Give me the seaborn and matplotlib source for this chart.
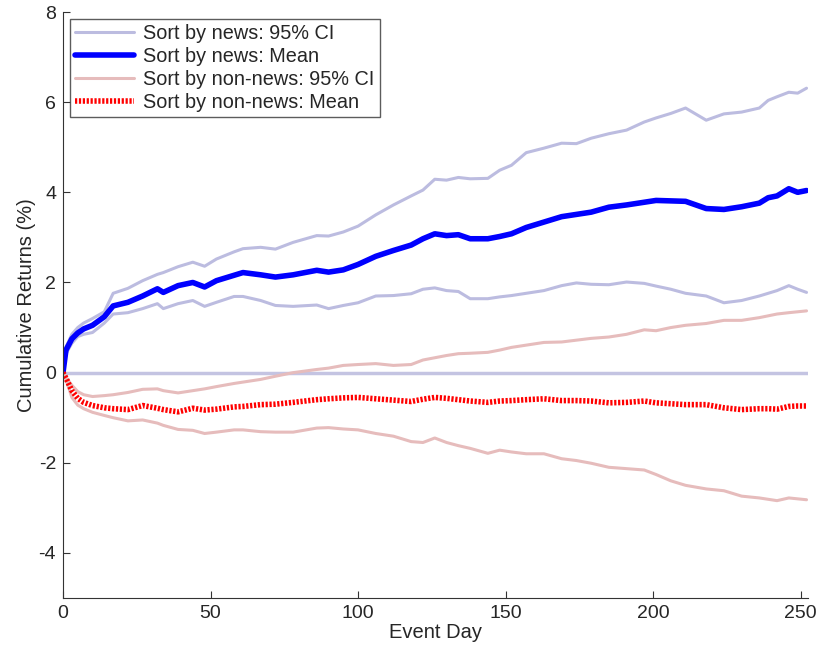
import numpy as np
import pandas as pd
import seaborn as sns
import matplotlib
matplotlib.use("Agg")
import matplotlib.pyplot as plt

# dias do evento (grade comum de leitura)
days = [0, 1, 3, 5, 7, 10, 14, 17, 22, 27, 32, 34, 39, 44, 48, 52, 58, 61, 67, 72,
        78, 86, 90, 95, 100, 106, 112, 118, 122, 126, 130, 134, 138, 144, 148, 152,
        157, 163, 169, 174, 179, 185, 191, 197, 201, 206, 211, 218, 224, 230, 236,
        239, 242, 246, 249, 252]

# Sort by news
news_mean = [0, 0.5, 0.75, 0.88, 0.97, 1.05, 1.24, 1.48, 1.56, 1.7, 1.86, 1.78, 1.93, 2.0,
             1.9, 2.04, 2.16, 2.22, 2.17, 2.12, 2.17, 2.27, 2.23, 2.28, 2.4, 2.58, 2.71,
             2.83, 2.97, 3.08, 3.04, 3.06, 2.97, 2.97, 3.02, 3.08, 3.22, 3.34, 3.46, 3.51,
             3.56, 3.67, 3.72, 3.78, 3.82, 3.81, 3.8, 3.64, 3.62, 3.68, 3.76, 3.88, 3.92,
             4.08, 4.0, 4.04]
news_hi = [0, 0.56, 0.85, 1.0, 1.1, 1.2, 1.35, 1.76, 1.87, 2.04, 2.18, 2.22, 2.35, 2.45,
           2.36, 2.52, 2.68, 2.75, 2.78, 2.74, 2.89, 3.04, 3.03, 3.12, 3.25, 3.5, 3.72,
           3.92, 4.05, 4.29, 4.27, 4.33, 4.3, 4.31, 4.49, 4.6, 4.88, 4.98, 5.09, 5.08,
           5.2, 5.3, 5.38, 5.56, 5.65, 5.75, 5.87, 5.6, 5.74, 5.78, 5.87, 6.04, 6.12,
           6.22, 6.2, 6.31]
news_lo = [0, 0.42, 0.65, 0.8, 0.85, 0.89, 1.1, 1.3, 1.33, 1.42, 1.53, 1.42, 1.53, 1.6,
           1.47, 1.56, 1.69, 1.69, 1.6, 1.49, 1.47, 1.5, 1.42, 1.49, 1.55, 1.7, 1.71,
           1.75, 1.85, 1.88, 1.82, 1.8, 1.64, 1.64, 1.68, 1.71, 1.76, 1.82, 1.93, 1.99,
           1.96, 1.95, 2.01, 1.98, 1.92, 1.85, 1.76, 1.7, 1.55, 1.6, 1.7, 1.76, 1.82,
           1.93, 1.85, 1.78]

# Sort by non-news
non_mean = [0, -0.12, -0.4, -0.57, -0.66, -0.73, -0.78, -0.8, -0.82, -0.73, -0.79, -0.82,
            -0.87, -0.79, -0.83, -0.81, -0.76, -0.75, -0.71, -0.7, -0.66, -0.6, -0.58,
            -0.56, -0.55, -0.58, -0.61, -0.64, -0.59, -0.55, -0.57, -0.6, -0.63, -0.66,
            -0.63, -0.62, -0.6, -0.58, -0.62, -0.62, -0.63, -0.67, -0.66, -0.63, -0.67,
            -0.69, -0.71, -0.71, -0.78, -0.82, -0.8, -0.8, -0.81, -0.75, -0.74, -0.74]
non_hi = [0, -0.1, -0.28, -0.42, -0.49, -0.53, -0.51, -0.49, -0.44, -0.37, -0.36, -0.4,
          -0.45, -0.4, -0.36, -0.31, -0.24, -0.21, -0.15, -0.08, 0.0, 0.07, 0.1, 0.16,
          0.18, 0.2, 0.16, 0.18, 0.28, 0.33, 0.38, 0.42, 0.43, 0.45, 0.5, 0.56, 0.61,
          0.67, 0.68, 0.72, 0.76, 0.79, 0.85, 0.95, 0.93, 1.0, 1.05, 1.09, 1.16, 1.16,
          1.22, 1.26, 1.3, 1.33, 1.35, 1.37]
non_lo = [0, -0.15, -0.55, -0.72, -0.8, -0.88, -0.95, -1.0, -1.07, -1.05, -1.12, -1.17,
          -1.26, -1.28, -1.35, -1.32, -1.27, -1.27, -1.31, -1.32, -1.32, -1.23, -1.22,
          -1.25, -1.27, -1.35, -1.41, -1.53, -1.55, -1.45, -1.55, -1.62, -1.68, -1.79,
          -1.72, -1.76, -1.8, -1.8, -1.91, -1.95, -2.01, -2.1, -2.13, -2.16, -2.26,
          -2.4, -2.5, -2.58, -2.62, -2.74, -2.78, -2.81, -2.84, -2.78, -2.8, -2.82]

df = pd.DataFrame({"day": days, "news_mean": news_mean, "news_hi": news_hi,
                   "news_lo": news_lo, "non_mean": non_mean, "non_hi": non_hi,
                   "non_lo": non_lo})

sns.set_style("ticks")
plt.rcParams["font.family"] = ["Liberation Sans", "DejaVu Sans"]
plt.rcParams["axes.unicode_minus"] = False

fig = plt.figure(figsize=(8.16, 6.53), dpi=100)
ax = fig.add_axes([0.0772, 0.0842, 0.913, 0.8974])

ci_blue = "#bcbce0"
ci_red = "#e6bcbc"

ax.axhline(0, color="#c4c4e2", lw=2.5, zorder=1)

sns.lineplot(data=df, x="day", y="news_hi", ax=ax, color=ci_blue, lw=2.2,
             label="Sort by news: 95% CI")
sns.lineplot(data=df, x="day", y="news_lo", ax=ax, color=ci_blue, lw=2.2)
sns.lineplot(data=df, x="day", y="news_mean", ax=ax, color="#0000ff", lw=4,
             label="Sort by news: Mean")
sns.lineplot(data=df, x="day", y="non_hi", ax=ax, color=ci_red, lw=2.2,
             label="Sort by non-news: 95% CI")
sns.lineplot(data=df, x="day", y="non_lo", ax=ax, color=ci_red, lw=2.2)
sns.lineplot(data=df, x="day", y="non_mean", ax=ax, color="#ff0000", lw=4,
             linestyle=(0, (0.4, 0.3)), label="Sort by non-news: Mean")

ax.set_xlim(0, 252.5)
ax.set_ylim(-5, 8)
ax.set_xticks([0, 50, 100, 150, 200, 250])
ax.set_yticks([-4, -2, 0, 2, 4, 6, 8])
ax.set_xlabel("Event Day", fontsize=14.5, labelpad=1)
ax.set_ylabel("Cumulative Returns (%)", fontsize=14.5, labelpad=2)
ax.tick_params(direction="in", length=5, labelsize=14, color="#333333", pad=5)
sns.despine(ax=ax)
for s in ["left", "bottom"]:
    ax.spines[s].set_color("#333333")

leg = ax.legend(loc="upper left", fontsize=14.3, frameon=True, fancybox=False,
                edgecolor="#333333", handlelength=3.0, borderpad=0.25,
                labelspacing=0.2, handletextpad=0.45, borderaxespad=0.35)
leg.get_frame().set_linewidth(1.0)

fig.savefig("out.png", dpi=100)
